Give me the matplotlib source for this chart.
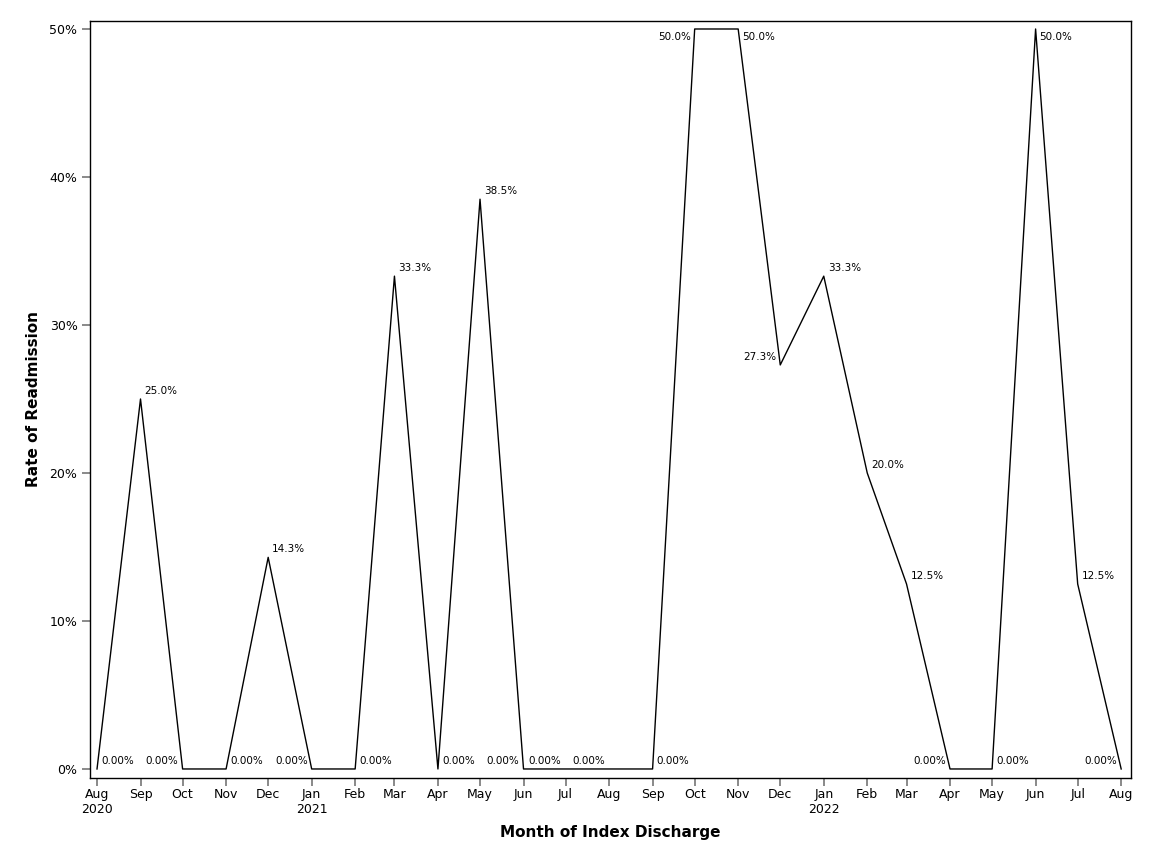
import matplotlib
matplotlib.use("Agg")
import matplotlib.pyplot as plt
import matplotlib.dates as mdates
import pandas as pd

months = pd.date_range("2020-08-01", "2022-08-01", freq="MS")
rates = [0.0, 25.0, 0.0, 0.0, 14.3, 0.0, 0.0, 33.3, 0.0, 38.5, 0.0, 0.0, 0.0,
         0.0, 50.0, 50.0, 27.3, 33.3, 20.0, 12.5, 0.0, 0.0, 50.0, 12.5, 0.0]
point_labels = ["0.00%" if r == 0 else f"{r:.1f}%" for r in rates]
label_side = ["R", "R", "L", "R", "R", "L", "R", "R", "R", "R", "L", "L", "L",
              "R", "L", "R", "L", "R", "R", "R", "L", "R", "R", "R", "L"]
y_ticks = [0, 10, 20, 30, 40, 50]

plt.rcParams['font.family'] = ['DejaVu Sans']
fig = plt.figure(figsize=(11.52, 8.64), dpi=100)
ax = fig.add_axes([90/1152, 1-778/864, (1131-90)/1152, (778-21)/864])

yv = [r/100 for r in rates]
ax.plot(months, yv, color="black", lw=1.0)

x0 = pd.Timestamp("2020-08-01") - pd.Timedelta(days=5)
x1 = pd.Timestamp("2022-08-01") + pd.Timedelta(days=7)
ax.set_xlim(x0, x1)
ax.set_ylim(-0.0061, 0.5054)

for d, v, lab, side in zip(months, yv, point_labels, label_side):
    dx = 4 if side == "R" else -4
    dy = 8 if v < 0.45 else -8
    ax.annotate(lab, (d, v), xytext=(dx, dy), textcoords="offset pixels",
                ha="left" if side == "R" else "right", va="center",
                fontsize=7.5, color="black")

ax.set_yticks([t/100 for t in y_ticks])
ax.set_yticklabels([f"{t}%" for t in y_ticks], fontsize=9)
ax.set_xticks(months)
xl = []
for d in months:
    s = d.strftime("%b")
    if d == months[0] or d.month == 1:
        s += "\n" + d.strftime("%Y")
    xl.append(s)
ax.set_xticklabels(xl, fontsize=9, linespacing=1.25)
ax.tick_params(axis="both", color="#808080", length=6, width=1.3, direction="out")
ax.tick_params(axis="x", pad=1)
ax.tick_params(axis="y", pad=3)
for s in ax.spines.values():
    s.set_linewidth(1.0)
    s.set_color("black")

ax.set_xlabel("Month of Index Discharge", fontsize=11, fontweight="bold", labelpad=6)
ax.set_ylabel("Rate of Readmission", fontsize=11, fontweight="bold", labelpad=6)

fig.savefig("out.png", dpi=100)
